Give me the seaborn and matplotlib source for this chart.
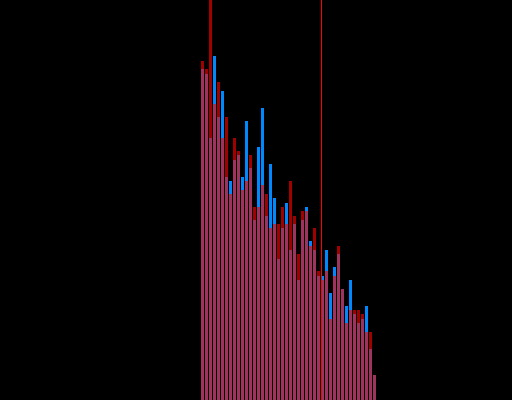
import matplotlib
matplotlib.use("Agg")
import matplotlib.pyplot as plt
import seaborn as sns
import numpy as np
import pandas as pd

bins = list(range(44))
blue_counts = [331, 326, 262, 344, 283, 309, 223, 219, 240, 245, 223, 279, 232, 180, 253, 292,
               184, 236, 202, 141, 172, 197, 150, 176, 120, 180, 193, 159, 150, 124, 124, 150,
               107, 133, 146, 111, 94, 120, 86, 77, 81, 94, 51, 25]
red_counts = [339, 331, 420, 296, 318, 262, 283, 206, 262, 249, 210, 219, 245, 193, 193, 215,
              206, 172, 176, 176, 193, 176, 219, 184, 146, 189, 189, 154, 172, 129, 120, 129,
              81, 124, 154, 111, 77, 90, 90, 90, 86, 68, 68, 25]
marker_x = 29.5

df = pd.DataFrame({"bin": bins, "blue": blue_counts, "red": red_counts})

sns.set_style("dark")
fig = plt.figure(figsize=(5.12, 4.0), dpi=100, facecolor="black")
ax = fig.add_axes([0, 0, 1, 1])
ax.set_facecolor("black")

sns.histplot(data=df, x="bin", weights="blue", discrete=True, shrink=0.75,
             color="#0088ff", alpha=1.0, linewidth=0, edgecolor="none", ax=ax)
sns.histplot(data=df, x="bin", weights="red", discrete=True, shrink=0.75,
             color="#ff0000", alpha=0.63, linewidth=0, edgecolor="none", ax=ax)
ax.axvline(marker_x, color="#ff0000", linewidth=0.72, alpha=1.0, zorder=10,
           antialiased=False)

ax.set_xlim(-50.625, 77.375)
ax.set_ylim(0, 400)
ax.set_axis_off()

fig.savefig("out.png", dpi=100, facecolor="black")
